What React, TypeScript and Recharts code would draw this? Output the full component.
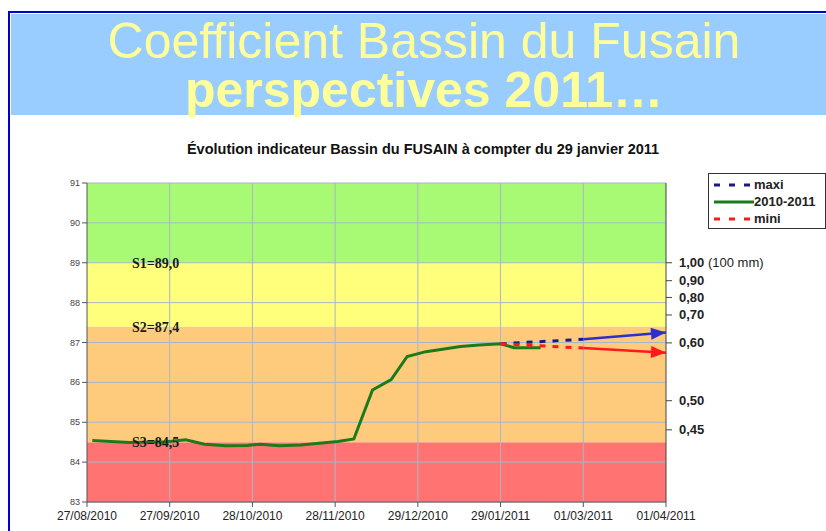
import React from 'react'
import { LineChart, Line, XAxis, YAxis, ReferenceArea, ReferenceLine } from 'recharts'

// days counted from 27/08/2010
const dateTicks = [0, 31, 62, 93, 124, 155, 186, 217]
const dateLabels = [
  '27/08/2010',
  '27/09/2010',
  '28/10/2010',
  '28/11/2010',
  '29/12/2010',
  '29/01/2011',
  '01/03/2011',
  '01/04/2011',
]

const levelTicks = [83, 84, 85, 86, 87, 88, 89, 90, 91]

const obsDays = [2, 16, 30, 37, 44, 52, 60, 65, 72, 80, 94, 100, 107, 114, 120, 127, 132, 140, 147, 155, 160, 170]
const obsValues = [
  84.54, 84.49, 84.51, 84.56, 84.45, 84.41, 84.42, 84.45, 84.41, 84.43, 84.52, 84.58, 85.81, 86.07, 86.65,
  86.77, 86.82, 86.9, 86.94, 86.97, 86.87, 86.87,
]

const maxiDays = [155, 186]
const maxiValues = [86.97, 87.08]
const maxiArrowDays = [186, 217]
const maxiArrowValues = [87.08, 87.25]

const miniDays = [155, 186]
const miniValues = [86.97, 86.86]
const miniArrowDays = [186, 217]
const miniArrowValues = [86.86, 86.74]

// thresholds
const zoneBounds = [83, 84.5, 87.4, 89, 91]
const zoneColors = ['#FF7373', '#FECB7C', '#FFFF7C', '#A8FA74']
const thresholdValues = [89.0, 87.4, 84.5]
const thresholdLabels = ['S1=89,0', 'S2=87,4', 'S3=84,5']

// coefficient scale on the right
const coefLevels = [89.0, 88.55, 88.13, 87.69, 86.99, 85.54, 84.81]
const coefLabels = ['1,00', '0,90', '0,80', '0,70', '0,60', '0,50', '0,45']

const toRows = (days: number[], values: number[]) => days.map((d, i) => ({ day: d, value: values[i] }))

const obsData = toRows(obsDays, obsValues)
const maxiData = toRows(maxiDays, maxiValues)
const maxiArrowData = toRows(maxiArrowDays, maxiArrowValues)
const miniData = toRows(miniDays, miniValues)
const miniArrowData = toRows(miniArrowDays, miniArrowValues)

const FONT = "Arial, 'Liberation Sans', sans-serif"

function arrowHead(color: string, count: number) {
  return (props: any) => {
    const { cx, cy, index, points } = props
    if (index !== count - 1 || cx == null) return <g key={`ah-${index}`} />
    let angle = 0
    if (points && points.length > 1) {
      const p = points[points.length - 2]
      angle = (Math.atan2(cy - p.y, cx - p.x) * 180) / Math.PI
    }
    return (
      <polygon
        key={`ah-${index}`}
        points={`${cx},${cy} ${cx - 15},${cy - 6} ${cx - 15},${cy + 6}`}
        fill={color}
        transform={`rotate(${angle} ${cx} ${cy})`}
      />
    )
  }
}

const LeftTick = (props: any) => {
  const { x, y, payload } = props
  return (
    <text x={x} y={y} dy={3} textAnchor="end" fontSize={9} fill="#444" fontFamily={FONT}>
      {payload.value}
    </text>
  )
}

const RightTick = (props: any) => {
  const { x, y, payload } = props
  const i = coefLevels.indexOf(payload.value)
  if (i < 0) return <g />
  return (
    <text x={x + 5} y={y} dy={4.5} textAnchor="start" fontSize={13} fontWeight="bold" fill="#222" fontFamily={FONT}>
      {coefLabels[i]}
      {i === 0 && <tspan fontWeight="normal"> (100 mm)</tspan>}
    </text>
  )
}

const DateTick = (props: any) => {
  const { x, y, payload } = props
  const i = dateTicks.indexOf(payload.value)
  return (
    <text x={x} y={y} dy={11} textAnchor="middle" fontSize={12} fill="#222" fontFamily={FONT}>
      {dateLabels[i]}
    </text>
  )
}

const legendItems = [
  { name: 'maxi', color: '#1A1A80', dash: '6 9' },
  { name: '2010-2011', color: '#1C7A1C', dash: '' },
  { name: 'mini', color: '#FF1A1A', dash: '6 9' },
]

const LegendBox = () => (
  <div
    style={{
      position: 'absolute',
      left: 708,
      top: 173,
      border: '1px solid #333',
      background: '#fff',
      width: 118,
      height: 56,
      boxSizing: 'border-box',
      fontFamily: FONT,
      fontSize: 13,
      fontWeight: 'bold',
      color: '#222',
      paddingTop: 2,
    }}
  >
    {legendItems.map((it) => (
      <div key={it.name} style={{ display: 'flex', alignItems: 'center', height: 17 }}>
        <svg width={40} height={8} style={{ marginLeft: 5 }}>
          <line x1={0} y1={4} x2={40} y2={4} stroke={it.color} strokeWidth={3} strokeDasharray={it.dash || undefined} />
        </svg>
        <span>{it.name}</span>
      </div>
    ))}
  </div>
)

export default function App() {
  return (
    <div style={{ position: 'absolute', left: 0, top: 0, width: 826, height: 531, overflow: 'hidden', background: '#fff' }}>
      <div
        style={{
          position: 'absolute',
          left: 8,
          top: 11,
          width: 900,
          height: 600,
          borderLeft: '2px solid #0000CC',
          borderTop: '2px solid #0000CC',
        }}
      />
      <div
        style={{
          position: 'absolute',
          left: 11,
          top: 14,
          width: 826,
          height: 101,
          background: '#99CCFF',
          color: '#FFFF99',
          fontFamily: FONT,
          textAlign: 'center',
          fontSize: 50,
          lineHeight: '49px',
        }}
      >
        <div style={{ marginTop: 3 }}>Coefficient Bassin du Fusain</div>
        <div style={{ fontWeight: 'bold' }}>perspectives 2011…</div>
      </div>
      <div
        style={{
          position: 'absolute',
          left: 0,
          width: 846,
          top: 141,
          textAlign: 'center',
          fontFamily: FONT,
          fontWeight: 'bold',
          fontSize: 14.5,
          color: '#111',
          whiteSpace: 'nowrap',
        }}
      >
        Évolution indicateur Bassin du FUSAIN à compter du 29 janvier 2011
      </div>
      <div style={{ position: 'absolute', left: 0, top: 0 }}>
        <LineChart width={826} height={531} margin={{ top: 183, right: 10, bottom: 5, left: 47 }}>
          <XAxis
            dataKey="day"
            type="number"
            domain={[0, 217]}
            ticks={dateTicks}
            interval={0}
            allowDuplicatedCategory={false}
            height={24}
            tickSize={5}
            stroke="#555"
            tick={<DateTick />}
          />
          <YAxis
            yAxisId="left"
            type="number"
            domain={[83, 91]}
            ticks={levelTicks}
            interval={0}
            width={40}
            tickSize={5}
            stroke="#555"
            tick={<LeftTick />}
          />
          <YAxis
            yAxisId="right"
            orientation="right"
            type="number"
            domain={[83, 91]}
            allowDataOverflow
            ticks={coefLevels}
            interval={0}
            width={150}
            tickSize={6}
            stroke="#444"
            tick={<RightTick />}
          />
          {zoneColors.map((c, i) => (
            <ReferenceArea
              key={`zone-${i}`}
              yAxisId="left"
              y1={zoneBounds[i]}
              y2={zoneBounds[i + 1]}
              fill={c}
              fillOpacity={1}
              stroke="none"
            />
          ))}
          {levelTicks.map((v) => (
            <ReferenceLine key={`hg-${v}`} yAxisId="left" y={v} stroke="#A9B6C8" strokeWidth={1} />
          ))}
          {dateTicks.slice(1, -1).map((d) => (
            <ReferenceLine key={`vg-${d}`} yAxisId="left" x={d} stroke="#A9B6C8" strokeWidth={1} />
          ))}
          {thresholdValues.map((v, i) => (
            <ReferenceLine
              key={`th-${v}`}
              yAxisId="left"
              y={v}
              stroke="none"
              label={{
                value: thresholdLabels[i],
                position: 'insideLeft',
                offset: 45,
                fill: '#1a1a1a',
                fontSize: 14,
                fontWeight: 'bold',
                fontFamily: "'Liberation Serif', 'DejaVu Serif', serif",
              }}
            />
          ))}
          <Line
            yAxisId="right"
            data={obsData}
            dataKey="value"
            stroke="none"
            strokeOpacity={0}
            dot={false}
            activeDot={false}
            isAnimationActive={false}
            legendType="none"
          />
          <Line
            yAxisId="left"
            data={maxiData}
            dataKey="value"
            stroke="#1A1A80"
            strokeWidth={3}
            strokeDasharray="6 7"
            dot={false}
            isAnimationActive={false}
            legendType="none"
          />
          <Line
            yAxisId="left"
            data={maxiArrowData}
            dataKey="value"
            stroke="#2E2ECC"
            strokeWidth={2.5}
            dot={arrowHead('#2E2ECC', maxiArrowData.length)}
            isAnimationActive={false}
            legendType="none"
          />
          <Line
            yAxisId="left"
            data={miniArrowData}
            dataKey="value"
            stroke="#FF1A1A"
            strokeWidth={2.5}
            dot={arrowHead('#FF1A1A', miniArrowData.length)}
            isAnimationActive={false}
            legendType="none"
          />
          <Line
            yAxisId="left"
            data={obsData}
            dataKey="value"
            stroke="#1C7A1C"
            strokeWidth={3}
            dot={false}
            isAnimationActive={false}
            legendType="none"
          />
          <Line
            yAxisId="left"
            data={miniData}
            dataKey="value"
            stroke="#FF1A1A"
            strokeWidth={3}
            strokeDasharray="6 7"
            dot={false}
            isAnimationActive={false}
            legendType="none"
          />
        </LineChart>
      </div>
      <LegendBox />
    </div>
  )
}
